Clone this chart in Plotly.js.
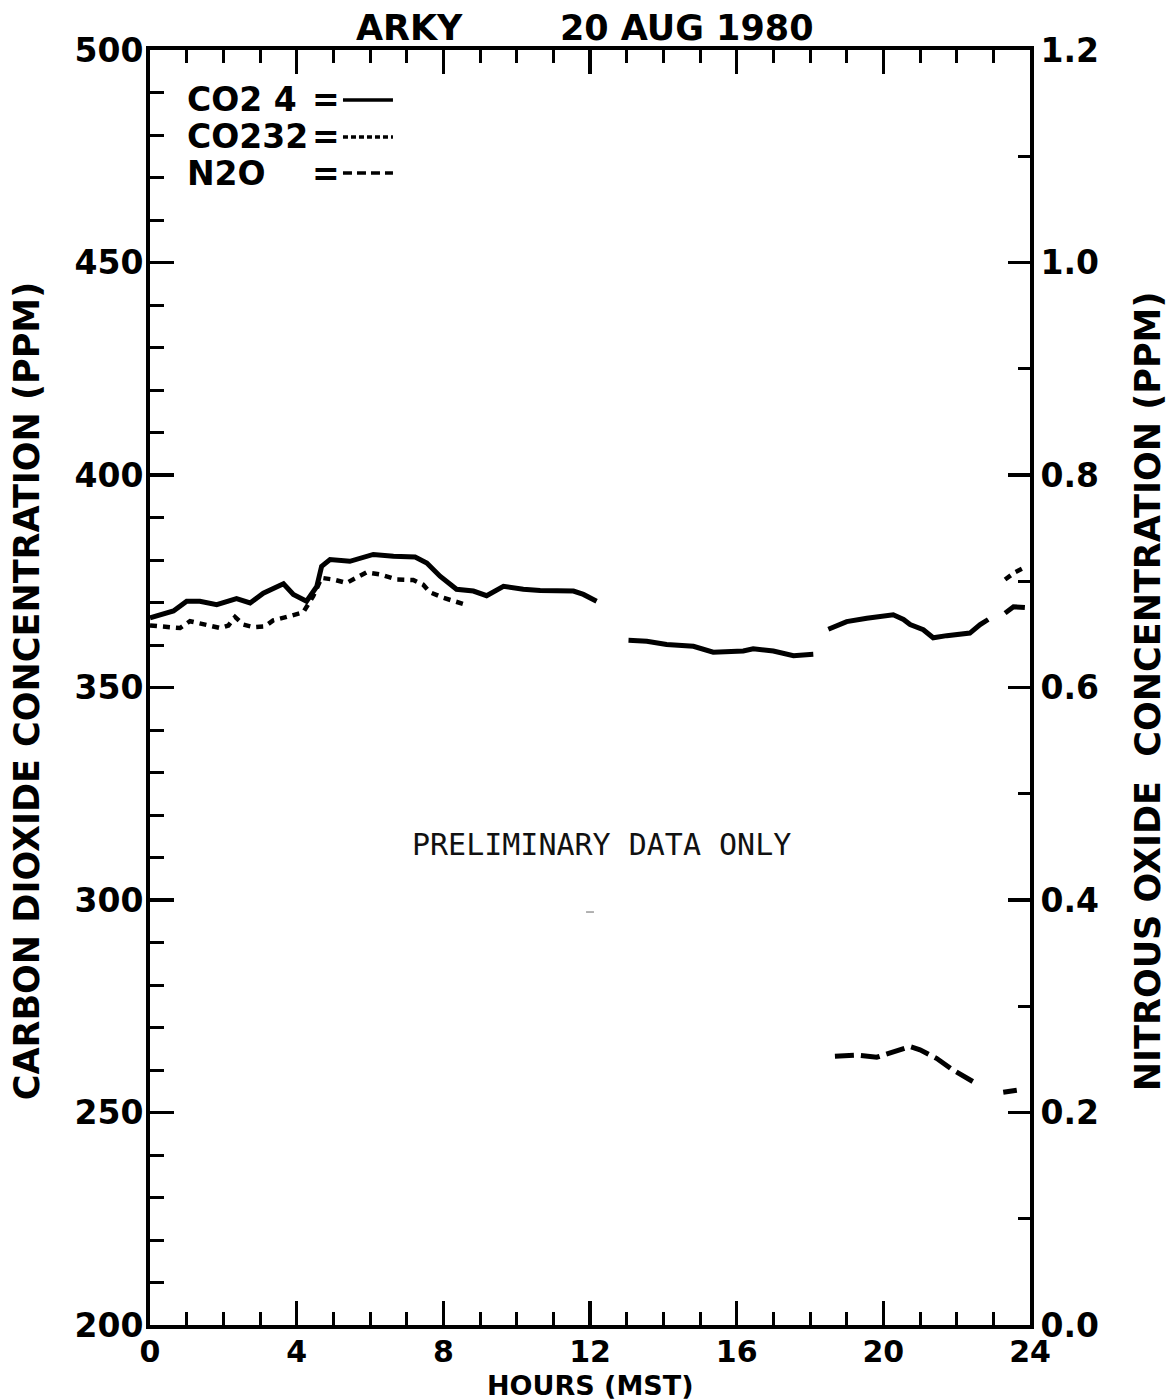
<!DOCTYPE html>
<html>
<head>
<meta charset="utf-8">
<script src="https://cdn.plot.ly/plotly-3.0.1.min.js"></script>
<style>
  html, body { margin: 0; padding: 0; background: #ffffff; }
  #chart { width: 1175px; height: 1400px; }
</style>
</head>
<body>
<div id="chart"></div>
<script>
// ---- Data ----
const chartTitle = "ARKY\u00A0\u00A0\u00A0\u00A0\u00A0\u00A0\u00A0 20 AUG 1980";
const xTitle = "HOURS (MST)";
const yTitleLeft = "CARBON DIOXIDE CONCENTRATION (PPM)";
const yTitleRight = "NITROUS OXIDE\u00A0\u00A0CONCENTRATION (PPM)";
const watermark = "PRELIMINARY DATA ONLY";
const legendNames = ["CO2 4", "CO232", "N2O"];

// CO2 4 (solid) — hours (MST), ppm; null marks gaps in the record
const hoursCO2_4 = [0, 0.64, 1.0, 1.36, 1.82, 2.36, 2.73, 3.09, 3.64, 3.91, 4.27, 4.55, 4.68, 4.91, 5.45, 6.09, 6.64, 7.23, 7.55, 7.91, 8.36, 8.82, 9.18, 9.64, 10.18, 10.64, 11.55, 11.82, 12.18,
  null, 13.05, 13.55, 14.09, 14.82, 15.36, 16.18, 16.45, 17.0, 17.55, 18.09,
  null, 18.5, 19.0, 19.55, 20.27, 20.55, 20.73, 21.09, 21.36, 21.73, 22.36, 22.64, 22.86,
  null, 23.32, 23.55, 23.86];
const valuesCO2_4 = [366.4, 368.0, 370.3, 370.3, 369.5, 370.9, 369.9, 372.2, 374.4, 371.9, 370.3, 373.8, 378.5, 380.1, 379.7, 381.3, 380.9, 380.7, 379.3, 376.2, 373.1, 372.7, 371.6, 373.8, 373.1, 372.8, 372.7, 371.9, 370.3,
  null, 361.1, 360.9, 360.1, 359.7, 358.3, 358.6, 359.1, 358.6, 357.5, 357.8,
  null, 363.7, 365.5, 366.3, 367.1, 366.0, 364.8, 363.6, 361.7, 362.2, 362.8, 364.8, 366.0,
  null, 367.5, 369.0, 368.8];

// CO232 (dotted)
const hoursCO232 = [0, 0.45, 0.82, 1.09, 1.55, 1.91, 2.14, 2.32, 2.55, 2.82, 3.14, 3.36, 3.73, 4.18, 4.45, 4.68, 5.0, 5.36, 5.91, 6.27, 6.73, 7.18, 7.45, 7.64, 8.0, 8.36, 8.68,
  null, 23.32, 23.59, 23.82];
const valuesCO232 = [364.6, 364.4, 364.0, 365.6, 364.6, 364.0, 364.6, 366.6, 364.8, 364.2, 364.4, 365.8, 366.6, 367.7, 371.5, 375.8, 375.4, 374.6, 377.1, 376.6, 375.4, 375.3, 374.2, 372.4, 371.1, 370.1, 369.3,
  null, 375.4, 377.1, 378.1];

// N2O (dashed, right axis)
const hoursN2O = [18.68, 19.27, 19.82, 20.27, 20.73, 21.0, 21.45, 21.9, 22.45, null, 23.27, 23.64];
const valuesN2O = [0.253, 0.254, 0.252, 0.257, 0.262, 0.259, 0.251, 0.240, 0.229, null, 0.219, 0.221];

// ---- Styling ----
const FONT = "DejaVu Sans";
const INK = "#000000";
const boldFont = (size) => ({ family: FONT, size: size, color: INK, weight: "bold" });

const traces = [
  { x: hoursCO2_4, y: valuesCO2_4, type: "scatter", mode: "lines", name: legendNames[0],
    line: { color: INK, width: 5 }, connectgaps: false, yaxis: "y" },
  { x: hoursCO232, y: valuesCO232, type: "scatter", mode: "lines", name: legendNames[1],
    line: { color: INK, width: 4.5, dash: "7px,6px" }, connectgaps: false, yaxis: "y" },
  { x: hoursN2O, y: valuesN2O, type: "scatter", mode: "lines", name: legendNames[2],
    line: { color: INK, width: 5, dash: "19px,7px" }, connectgaps: false, yaxis: "y2" }
];

// legend rows (paper coords)
const legendRowsY = [0.9608, 0.9318, 0.9035];
const legendDash = ["solid", "5px,3px", "9px,5px"];
const legendWidth = [3.5, 3.5, 3.5];

const annotations = [];
const shapes = [];
legendNames.forEach((nm, i) => {
  annotations.push({ xref: "paper", yref: "paper", x: 0.0398, y: legendRowsY[i], xanchor: "left", yanchor: "middle",
    text: nm, showarrow: false, font: boldFont(33) });
  annotations.push({ xref: "paper", yref: "paper", x: 0.2, y: legendRowsY[i], xanchor: "center", yanchor: "middle",
    text: "=", showarrow: false, font: boldFont(33) });
  shapes.push({ type: "line", xref: "paper", yref: "paper", x0: 0.2193, x1: 0.2761, y0: legendRowsY[i], y1: legendRowsY[i],
    line: { color: INK, width: legendWidth[i], dash: legendDash[i] } });
});

annotations.push({ xref: "paper", yref: "paper", x: 0.5, y: -0.0471, xanchor: "center", yanchor: "middle",
  text: xTitle, showarrow: false, font: boldFont(27) });
annotations.push({ xref: "paper", yref: "paper", x: -0.1398, y: 0.497, xanchor: "center", yanchor: "middle",
  text: yTitleLeft, textangle: -90, showarrow: false, font: boldFont(35) });
annotations.push({ xref: "paper", yref: "paper", x: 1.134, y: 0.497, xanchor: "center", yanchor: "middle",
  text: yTitleRight, textangle: -90, showarrow: false, font: boldFont(35) });
annotations.push({ xref: "paper", yref: "paper", x: 0.5136, y: 0.3765, xanchor: "center", yanchor: "middle",
  text: watermark, showarrow: false, font: { family: "DejaVu Sans Mono", size: 30, color: "#111111" } });

// tiny stray mark below the watermark
shapes.push({ type: "line", xref: "paper", yref: "paper", x0: 0.4955, x1: 0.5045, y0: 0.3239, y1: 0.3239,
  line: { color: "#999999", width: 1.5 } });

const layout = {
  width: 1175, height: 1400,
  paper_bgcolor: "#ffffff", plot_bgcolor: "#ffffff",
  margin: { l: 150, r: 145, t: 50, b: 75, pad: 0 },
  showlegend: false,
  title: { text: chartTitle, font: boldFont(35), x: 0.494, xref: "paper", xanchor: "center",
    y: 0.98, yref: "container", yanchor: "middle" },
  xaxis: {
    range: [0, 24], tick0: 0, dtick: 4, ticks: "inside", ticklen: 24, tickwidth: 3.5, tickcolor: INK,
    showline: true, linewidth: 4, linecolor: INK, mirror: "ticks", showgrid: false, zeroline: false,
    minor: { dtick: 1, tick0: 0, ticks: "inside", ticklen: 13, tickwidth: 3, tickcolor: INK, showgrid: false },
    tickfont: boldFont(30), ticklabelstandoff: -3
  },
  yaxis: {
    range: [200, 500], tick0: 200, dtick: 50, ticks: "inside", ticklen: 24, tickwidth: 3.5, tickcolor: INK,
    showline: true, linewidth: 4, linecolor: INK, mirror: false, showgrid: false, zeroline: false,
    minor: { dtick: 10, tick0: 200, ticks: "inside", ticklen: 14, tickwidth: 3, tickcolor: INK, showgrid: false },
    tickfont: boldFont(33), ticklabelstandoff: -4
  },
  yaxis2: {
    overlaying: "y", side: "right", anchor: "x",
    range: [0, 1.2], tick0: 0, dtick: 0.2, tickformat: ".1f", ticks: "inside", ticklen: 22, tickwidth: 3.5, tickcolor: INK,
    showline: true, linewidth: 4, linecolor: INK, showgrid: false, zeroline: false,
    minor: { dtick: 0.1, tick0: 0, ticks: "inside", ticklen: 12, tickwidth: 3, tickcolor: INK, showgrid: false },
    tickfont: boldFont(33), ticklabelstandoff: 0
  },
  annotations: annotations,
  shapes: shapes
};

Plotly.newPlot("chart", traces, layout, { displayModeBar: false, staticPlot: true });
</script>
</body>
</html>
